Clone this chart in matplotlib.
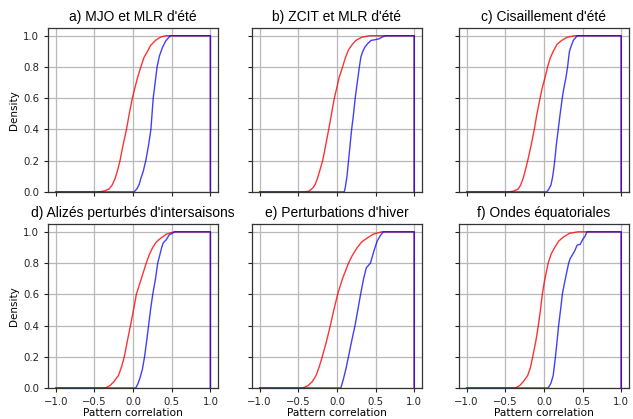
#!/usr/bin/env python3
# -*- coding: utf-8 -*-
"""Cumulative distributions of pattern correlation, six regimes (2 x 3 panels)."""

import matplotlib
matplotlib.use("Agg")
import matplotlib.pyplot as plt

# ============== DATA ============== #
TITLES = [
    "a) MJO et MLR d'été",
    "b) ZCIT et MLR d'été",
    "c) Cisaillement d'été",
    "d) Alizés perturbés d'intersaisons",
    "e) Perturbations d'hiver",
    "f) Ondes équatoriales",
]
HIST_RANGE = (-1.0, 1.0)   # range of the cumulative histograms

# red curves (x = pattern correlation, y = cumulative fraction)
red_x_a = [-0.46, -0.40, -0.35, -0.31, -0.27, -0.23, -0.20, -0.17, -0.13, -0.086,
           -0.05, -0.01, 0.03, 0.056, 0.10, 0.14, 0.185, 0.23, 0.29, 0.35, 0.42]
red_y_a = [0.0, 0.003, 0.01, 0.02, 0.045, 0.09, 0.14, 0.2, 0.3, 0.4,
           0.5, 0.6, 0.68, 0.73, 0.8, 0.86, 0.9, 0.94, 0.97, 0.99, 1.0]
red_x_b = [-0.42, -0.36, -0.31, -0.28, -0.25, -0.22, -0.185, -0.145, -0.107, -0.07,
           -0.034, 0.0, 0.03, 0.073, 0.11, 0.15, 0.20, 0.245, 0.32, 0.42]
red_y_b = [0.0, 0.005, 0.026, 0.05, 0.09, 0.14, 0.2, 0.3, 0.4, 0.5,
           0.6, 0.67, 0.735, 0.8, 0.86, 0.91, 0.945, 0.97, 0.99, 1.0]
red_x_c = [-0.46, -0.39, -0.33, -0.30, -0.27, -0.24, -0.21, -0.165, -0.125, -0.09,
           -0.05, -0.02, 0.013, 0.047, 0.08, 0.12, 0.17, 0.23, 0.30, 0.40]
red_y_c = [0.0, 0.005, 0.02, 0.045, 0.086, 0.14, 0.2, 0.3, 0.4, 0.5,
           0.6, 0.67, 0.73, 0.8, 0.855, 0.9, 0.945, 0.97, 0.99, 1.0]
red_x_d = [-0.36, -0.30, -0.25, -0.19, -0.15, -0.114, -0.075, -0.034, 0.005, 0.042,
           0.106, 0.17, 0.21, 0.254, 0.30, 0.36, 0.43, 0.53]
red_y_d = [0.0, 0.015, 0.04, 0.08, 0.135, 0.2, 0.3, 0.4, 0.5, 0.6,
           0.70, 0.8, 0.855, 0.9, 0.935, 0.96, 0.985, 1.0]
red_x_e = [-0.44, -0.375, -0.32, -0.27, -0.23, -0.19, -0.135, -0.085, -0.04, 0.009,
           0.072, 0.15, 0.20, 0.264, 0.32, 0.39, 0.47, 0.58]
red_y_e = [0.0, 0.015, 0.04, 0.08, 0.135, 0.2, 0.3, 0.4, 0.5, 0.6,
           0.70, 0.8, 0.85, 0.9, 0.935, 0.96, 0.985, 1.0]
red_x_f = [-0.37, -0.31, -0.26, -0.21, -0.175, -0.145, -0.105, -0.072, -0.045, -0.021,
           0.005, 0.034, 0.055, 0.095, 0.14, 0.19, 0.247, 0.33, 0.44]
red_y_f = [0.0, 0.017, 0.045, 0.08, 0.13, 0.2, 0.3, 0.4, 0.5, 0.6,
           0.68, 0.75, 0.8, 0.86, 0.9, 0.94, 0.965, 0.99, 1.0]

# blue curves
blue_x_a = [0.013, 0.05, 0.08, 0.10, 0.13, 0.164, 0.20, 0.23, 0.245, 0.26,
            0.285, 0.31, 0.34, 0.38, 0.42, 0.48]
blue_y_a = [0.0, 0.02, 0.05, 0.086, 0.13, 0.2, 0.3, 0.4, 0.5, 0.6,
            0.7, 0.8, 0.87, 0.925, 0.965, 1.0]
blue_x_b = [0.094, 0.107, 0.13, 0.15, 0.17, 0.19, 0.215, 0.236, 0.26, 0.29,
            0.31, 0.335, 0.365, 0.40, 0.44, 0.50, 0.545, 0.58, 0.63]
blue_y_b = [0.0, 0.026, 0.1, 0.2, 0.3, 0.4, 0.5, 0.6, 0.69, 0.8,
            0.865, 0.9, 0.93, 0.95, 0.97, 0.975, 0.98, 0.99, 1.0]
blue_x_c = [0.034, 0.06, 0.09, 0.11, 0.125, 0.14, 0.16, 0.185, 0.21, 0.237,
            0.26, 0.284, 0.306, 0.32, 0.33, 0.35, 0.38, 0.43]
blue_y_c = [0.0, 0.015, 0.043, 0.09, 0.14, 0.2, 0.3, 0.4, 0.5, 0.6,
            0.67, 0.73, 0.8, 0.86, 0.9, 0.93, 0.97, 1.0]
blue_x_d = [0.034, 0.06, 0.085, 0.12, 0.148, 0.175, 0.20, 0.225, 0.254, 0.29,
            0.318, 0.347, 0.37, 0.39, 0.43, 0.466, 0.54]
blue_y_d = [0.0, 0.025, 0.058, 0.12, 0.2, 0.3, 0.4, 0.5, 0.6, 0.70,
            0.8, 0.855, 0.9, 0.93, 0.95, 0.98, 1.0]
blue_x_e = [0.05, 0.08, 0.115, 0.149, 0.19, 0.234, 0.27, 0.306, 0.345, 0.38,
            0.434, 0.477, 0.52, 0.56, 0.60]
blue_y_e = [0.0, 0.05, 0.12, 0.2, 0.3, 0.4, 0.5, 0.6, 0.7, 0.77,
            0.8, 0.875, 0.94, 0.975, 1.0]
blue_x_f = [0.055, 0.09, 0.12, 0.149, 0.17, 0.19, 0.215, 0.238, 0.265, 0.29,
            0.32, 0.34, 0.36, 0.40, 0.43, 0.47, 0.50, 0.53, 0.557]
blue_y_f = [0.0, 0.03, 0.08, 0.2, 0.3, 0.4, 0.5, 0.6, 0.67, 0.73,
            0.8, 0.83, 0.845, 0.88, 0.915, 0.92, 0.95, 0.97, 1.0]

RED_X = [red_x_a, red_x_b, red_x_c, red_x_d, red_x_e, red_x_f]
RED_Y = [red_y_a, red_y_b, red_y_c, red_y_d, red_y_e, red_y_f]
BLUE_X = [blue_x_a, blue_x_b, blue_x_c, blue_x_d, blue_x_e, blue_x_f]
BLUE_Y = [blue_y_a, blue_y_b, blue_y_c, blue_y_d, blue_y_e, blue_y_f]
# =========================================================== #

# axes boxes in figure fractions (left, bottom, width, height)
COL_LEFT = [0.076, 0.398, 0.725]
ROW_BOTTOM = [0.542, 0.074]
AX_W, AX_H = 0.2686, 0.3914


def closed_cdf(xs, ys):
    """Close the cumulative curve like a step histogram over HIST_RANGE."""
    lo, hi = HIST_RANGE
    return [lo] + list(xs) + [hi, hi], [0.0] + list(ys) + [ys[-1], 0.0]


def main() -> None:
    fig = plt.figure(figsize=(6.33, 4.19), dpi=100)

    for i, title in enumerate(TITLES):
        row, col = divmod(i, 3)
        ax = fig.add_axes([COL_LEFT[col], ROW_BOTTOM[row], AX_W, AX_H])

        rx, ry = closed_cdf(RED_X[i], RED_Y[i])
        bx, by = closed_cdf(BLUE_X[i], BLUE_Y[i])
        ax.plot(rx, ry, color="red", lw=1.0, alpha=0.8)
        ax.plot(bx, by, color="blue", lw=1.0, alpha=0.75)

        ax.set_xlim(-1.1, 1.1)
        ax.set_ylim(0, 1.05)
        ax.set_xticks([-1.0, -0.5, 0.0, 0.5, 1.0])
        ax.set_yticks([0.0, 0.2, 0.4, 0.6, 0.8, 1.0])
        ax.grid(True, color="#b8b8b8", lw=0.9)
        ax.tick_params(labelsize=7.3, length=3, width=0.8, colors="#222222")
        for sp in ax.spines.values():
            sp.set_color("#333333")
            sp.set_linewidth(0.9)

        if col == 0:
            ax.set_ylabel("Density", fontsize=7.5, labelpad=3)
        else:
            ax.set_yticklabels([])
        if row == 1:
            ax.set_xlabel("Pattern correlation", fontsize=7.7, labelpad=1)
        else:
            ax.set_xticklabels([])

        ax.set_title(title, fontsize=10, family="Liberation Sans", pad=5)

    fig.savefig("out.png", dpi=100)


if __name__ == "__main__":
    main()
